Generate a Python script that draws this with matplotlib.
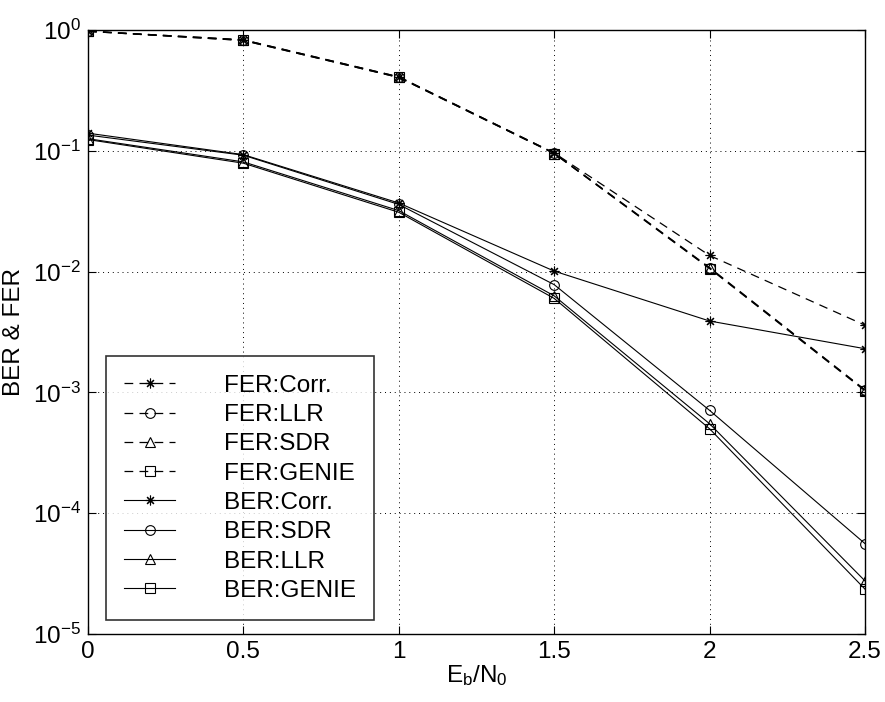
import math
import matplotlib
matplotlib.use("Agg")
import matplotlib.pyplot as plt
from matplotlib.ticker import FixedLocator, NullLocator, FuncFormatter

plt.rcParams['font.family'] = ['Liberation Sans', 'DejaVu Sans']
plt.rcParams['mathtext.fontset'] = 'custom'
plt.rcParams['mathtext.rm'] = 'Liberation Sans'
plt.rcParams['mathtext.it'] = 'Liberation Sans'

# Eb/N0 sweep (dB)
ebn0 = [0, 0.5, 1, 1.5, 2, 2.5]

# Frame error rates
fer_corr = [0.98, 0.83, 0.41, 0.096, 0.0136, 0.0036]
fer_llr = [0.98, 0.83, 0.41, 0.096, 0.0108, 0.00105]
fer_sdr = [0.975, 0.82, 0.405, 0.095, 0.0107, 0.00104]
fer_genie = [0.975, 0.82, 0.405, 0.095, 0.0106, 0.00103]

# Bit error rates
ber_corr = [0.14, 0.093, 0.037, 0.0101, 0.0039, 0.0023]
ber_sdr = [0.135, 0.092, 0.036, 0.0078, 0.00071, 5.6e-5]
ber_llr = [0.126, 0.081, 0.032, 0.0063, 0.00055, 2.75e-5]
ber_genie = [0.124, 0.079, 0.031, 0.0060, 0.00050, 2.35e-5]

xticks = [0, 0.5, 1, 1.5, 2, 2.5]
xtick_labels = ['0', '0.5', '1', '1.5', '2', '2.5']
ydecades = [1e-5, 1e-4, 1e-3, 1e-2, 1e-1, 1e0]

fig = plt.figure(figsize=(8.85, 7.02), dpi=100)
ax = fig.add_axes([0.0994, 0.0969, 0.8780, 0.8603])

asterisk = (8, 2, 0)
dash = (0, (7, 5))
common = dict(color='black', markerfacecolor='none', markeredgecolor='black',
              markersize=7, markeredgewidth=0.8)

ax.semilogy(ebn0, fer_corr, linestyle=dash, marker=asterisk, linewidth=0.9, label='FER:Corr.', **common)
ax.semilogy(ebn0, fer_llr, linestyle=dash, marker='o', linewidth=0.9, label='FER:LLR', **common)
ax.semilogy(ebn0, fer_sdr, linestyle=dash, marker='^', linewidth=0.9, label='FER:SDR', **common)
ax.semilogy(ebn0, fer_genie, linestyle=dash, marker='s', linewidth=0.9, label='FER:GENIE', **common)
ax.semilogy(ebn0, ber_corr, linestyle='-', marker=asterisk, linewidth=0.8, label='BER:Corr.', **common)
ax.semilogy(ebn0, ber_sdr, linestyle='-', marker='o', linewidth=0.8, label='BER:SDR', **common)
ax.semilogy(ebn0, ber_llr, linestyle='-', marker='^', linewidth=0.8, label='BER:LLR', **common)
ax.semilogy(ebn0, ber_genie, linestyle='-', marker='s', linewidth=0.8, label='BER:GENIE', **common)

ax.set_xlim(0, 2.5)
ax.set_ylim(1e-5, 1e0)
ax.xaxis.set_major_locator(FixedLocator(xticks))
ax.set_xticklabels(xtick_labels)
ax.yaxis.set_major_locator(FixedLocator(ydecades))
ax.yaxis.set_minor_locator(NullLocator())
ax.yaxis.set_major_formatter(FuncFormatter(lambda v, p: r'$10^{%d}$' % round(math.log10(v))))

ax.grid(True, which='major', linestyle=(0, (1, 4)), color='black', linewidth=0.7)
ax.tick_params(direction='in', which='both', top=True, right=True, labelsize=17.5,
               length=6, width=0.8, pad=5)
for s in ax.spines.values():
    s.set_linewidth(1.0)

ax.set_xlabel(r'E$_\mathregular{b}$/N$_\mathregular{0}$', fontsize=17.5, labelpad=0)
ax.set_ylabel('BER & FER', fontsize=17.5, labelpad=6)

leg = ax.legend(loc='lower left', bbox_to_anchor=(0.023, 0.023), fontsize=17.5,
                handlelength=2.1, handletextpad=2.0, labelspacing=0.3,
                borderpad=0.75, borderaxespad=0, fancybox=False, frameon=True)
leg.get_frame().set_edgecolor('black')
leg.get_frame().set_linewidth(1.2)

fig.savefig('out.png', dpi=100)
